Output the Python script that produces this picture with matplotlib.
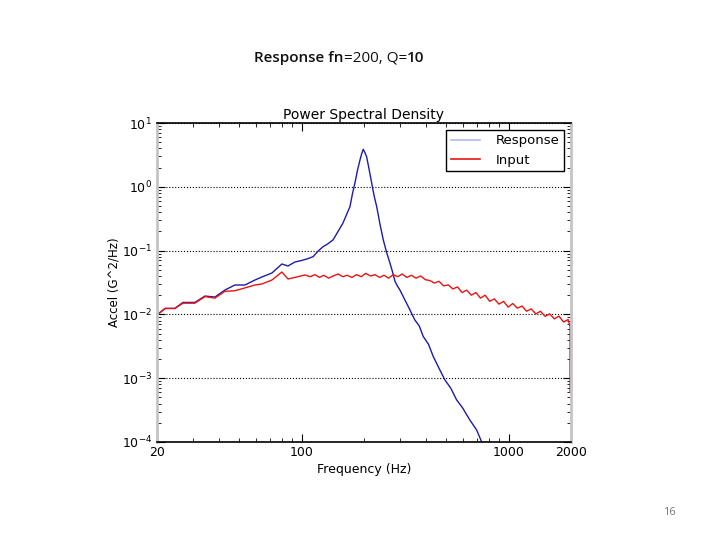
import numpy as np
import matplotlib
matplotlib.use("Agg")
import matplotlib.pyplot as plt
from matplotlib.lines import Line2D
from matplotlib.ticker import FixedLocator, FixedFormatter, LogLocator, NullFormatter

# Response (blue), Hz / G^2/Hz
resp_freq = [20, 21.9, 24.4, 26.7, 30.5, 34.1, 38.1, 42.6, 47.6, 53.2, 59.5, 64.3,
             71.9, 80.3, 85.9, 92.8, 100, 106, 113.4, 120, 126.8, 134, 141.7, 150,
             158.3, 165, 171.2, 176, 180.9, 186, 191.3, 195, 198.4, 202, 206, 212,
             217.9, 224, 230.4, 239, 248, 257, 267, 275, 282.4, 290, 298.6, 315,
             333.8, 352, 370, 386.8, 410, 432, 460, 492, 525, 560, 600, 650, 700,
             740, 800]
resp_psd = [0.0098, 0.0124, 0.0124, 0.0154, 0.0154, 0.0194, 0.0187, 0.0241, 0.0289,
            0.0289, 0.0346, 0.0386, 0.0446, 0.0617, 0.0574, 0.0663, 0.070, 0.074,
            0.080, 0.098, 0.115, 0.128, 0.147, 0.20, 0.27, 0.37, 0.49, 0.78, 1.15,
            1.80, 2.63, 3.30, 3.87, 3.45, 2.96, 1.85, 1.15, 0.72, 0.49, 0.26, 0.147,
            0.095, 0.064, 0.046, 0.033, 0.028, 0.024, 0.017, 0.0117, 0.0082, 0.0066,
            0.0045, 0.0034, 0.0022, 0.00145, 0.00094, 0.00070, 0.00046, 0.00034,
            0.00022, 0.000155, 0.000101, 0.00006]

# Input (red)
inp_freq = [20, 21.9, 24.4, 26.7, 30.5, 34.1, 38.1, 42.6, 47.6, 53.2, 59.5, 64.3,
            71.9, 80.3, 85.9, 92.8, 103.8, 110, 116, 122, 128, 135, 142, 150, 158,
            166, 175, 184, 194, 204, 215, 226, 238, 250, 263, 277, 291, 306, 322,
            339, 357, 376, 396, 416, 438, 461, 485, 511, 538, 566, 596, 627, 660,
            695, 731, 770, 810, 853, 898, 945, 995, 1047, 1102, 1160, 1221, 1286,
            1353, 1425, 1500, 1579, 1662, 1750, 1842, 1939, 1980, 1980]
inp_psd = [0.0098, 0.0124, 0.0124, 0.0150, 0.0150, 0.0190, 0.0180, 0.0230, 0.0235,
           0.0260, 0.0289, 0.0300, 0.0346, 0.0462, 0.0359, 0.0380, 0.0415, 0.039,
           0.042, 0.038, 0.041, 0.037, 0.040, 0.043, 0.039, 0.041, 0.038, 0.042,
           0.039, 0.044, 0.040, 0.042, 0.038, 0.041, 0.037, 0.042, 0.039, 0.043,
           0.038, 0.041, 0.037, 0.040, 0.035, 0.034, 0.031, 0.033, 0.028, 0.029,
           0.025, 0.027, 0.022, 0.024, 0.020, 0.022, 0.018, 0.020, 0.016, 0.0175,
           0.0145, 0.016, 0.013, 0.0148, 0.0125, 0.0135, 0.0112, 0.0122, 0.0102,
           0.0112, 0.0093, 0.0102, 0.0085, 0.0094, 0.0076, 0.0083, 0.0064, 0.0006]

x_ticks = [20, 100, 1000, 2000]
x_tick_labels = ["20", "100", "1000", "2000"]

fig = plt.figure(figsize=(7.2, 5.4), dpi=100)
fig.patch.set_facecolor("white")

ax = fig.add_axes([0.218, 0.1815, 0.575, 0.5907])
ax.plot(resp_freq, resp_psd, color="#1c1ca8", linewidth=1.0)
ax.plot(inp_freq, inp_psd, color="#e81414", linewidth=1.0)

ax.set_xscale("log")
ax.set_yscale("log")
ax.set_xlim(20, 2000)
ax.set_ylim(1e-4, 1e1)

ax.xaxis.set_major_locator(FixedLocator(x_ticks))
ax.xaxis.set_major_formatter(FixedFormatter(x_tick_labels))
ax.xaxis.set_minor_locator(LogLocator(base=10, subs=np.arange(2, 10)))
ax.xaxis.set_minor_formatter(NullFormatter())
ax.yaxis.set_minor_locator(LogLocator(base=10, subs=np.arange(2, 10)))

ax.tick_params(which="both", direction="in", top=True, right=True, labelsize=9)
ax.tick_params(which="major", length=6)
ax.tick_params(which="minor", length=3)
ax.tick_params(axis="x", pad=3)

ax.yaxis.grid(True, which="major", linestyle=":", color="black", linewidth=0.8)

for side in ["left", "right"]:
    ax.spines[side].set_color("#c4c4c4")
    ax.spines[side].set_linewidth(2.0)
for side in ["top", "bottom"]:
    ax.spines[side].set_color("black")
    ax.spines[side].set_linewidth(1.2)

ax.set_title("Power Spectral Density", fontsize=10, pad=3)
ax.set_xlabel("Frequency (Hz)", fontsize=9, labelpad=3)
ax.set_ylabel("Accel (G^2/Hz)", fontsize=8.5, labelpad=1)

handles = [Line2D([], [], color="#b8b8ee", linewidth=1.2),
           Line2D([], [], color="#e81414", linewidth=1.2)]
leg = ax.legend(handles, ["Response", "Input"], loc="upper right", fontsize=9.5,
                fancybox=False, framealpha=1, edgecolor="black",
                borderaxespad=0.5, handlelength=2.2, handletextpad=1.2,
                borderpad=0.35)
leg.get_frame().set_linewidth(1.0)

# slide title, mixed weight like the original
t1 = fig.text(0.353, 0.885, "Response fn", fontsize=11, fontweight="semibold",
              family="Open Sans", va="baseline", color="#111111")
t2 = ax.annotate("=200, Q=", xy=(1, 0), xycoords=t1, va="bottom", ha="left",
                 fontsize=11, family="Open Sans", color="#111111",
                 annotation_clip=False)
t3 = ax.annotate("10", xy=(1, 0), xycoords=t2, va="bottom", ha="left",
                 fontsize=11, family="Open Sans", fontweight="semibold",
                 color="#111111", annotation_clip=False)

fig.text(0.93, 0.046, "16", fontsize=8, color="#777777", ha="center",
         family="Open Sans")

fig.savefig("out.png", dpi=100)
